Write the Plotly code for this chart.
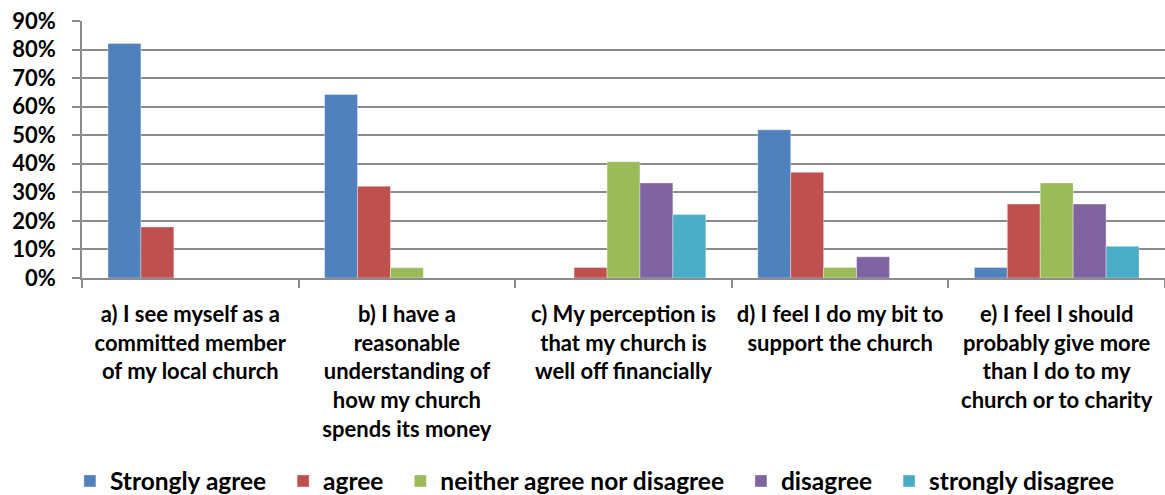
import plotly.graph_objects as go

categories = [
    "a) I see myself as a<br>committed member<br>of my local church",
    "b) I have a<br>reasonable<br>understanding of<br>how my church<br>spends its money",
    "c) My perception is<br>that my church is<br>well off financially",
    "d) I feel I do my bit to<br>support the church",
    "e) I feel I should<br>probably give more<br>than I do to my<br>church or to charity",
]
series_names = ["Strongly agree", "agree", "neither agree nor disagree", "disagree", "strongly disagree"]
strongly_agree = [0.821, 0.643, 0.0, 0.519, 0.037]
agree = [0.179, 0.321, 0.037, 0.370, 0.259]
neither = [0.0, 0.036, 0.407, 0.037, 0.333]
disagree = [0.0, 0.0, 0.333, 0.074, 0.259]
strongly_disagree = [0.0, 0.0, 0.222, 0.0, 0.111]
series_values = [strongly_agree, agree, neither, disagree, strongly_disagree]
colors = ["#4F81BD", "#C0504D", "#9BBB59", "#8064A2", "#4BACC6"]
y_ticks = [0, 0.1, 0.2, 0.3, 0.4, 0.5, 0.6, 0.7, 0.8, 0.9]

FONT = "Lato"
PAD = "\u00a0\u00a0"
fig = go.Figure()
for i, (name, vals, col) in enumerate(zip(series_names, series_values, colors)):
    label = name + (PAD if i < len(series_names) - 1 else "")
    fig.add_trace(go.Bar(
        x=categories, y=vals, name=label,
        marker=dict(color=col, line=dict(width=0.6, color="rgba(255,255,255,0.6)")),
    ))

fig.update_layout(
    width=1165, height=495,
    margin=dict(l=82, r=0, t=21, b=217),
    plot_bgcolor="white", paper_bgcolor="white",
    barmode="group", bargap=0.24, bargroupgap=0,
    font=dict(family=FONT, color="black"),
    legend=dict(
        orientation="h", xref="container", yref="container",
        x=0.06, xanchor="left", y=1 - 481 / 495, yanchor="middle",
        font=dict(family=FONT, size=24.5, weight="bold", color="black"),
        itemwidth=30, traceorder="normal",
    ),
    showlegend=True,
)
fig.update_yaxes(
    range=[0, 0.9], tickvals=y_ticks, tickformat=".0%",
    showgrid=True, gridcolor="#8C8C8C", gridwidth=1.5,
    showline=True, linecolor="#8C8C8C", linewidth=1.5,
    ticks="outside", ticklen=8, tickcolor="#8C8C8C", tickwidth=1.5,
    ticklabelstandoff=12, automargin=False,
    tickfont=dict(family=FONT, size=22, weight="bold", color="black"),
    zeroline=False,
)
fig.update_xaxes(
    showline=True, linecolor="#8C8C8C", linewidth=1.5,
    ticks="outside", ticklen=8, tickcolor="#8C8C8C", tickwidth=1.5,
    tickson="boundaries", ticklabelstandoff=16, automargin=False,
    tickfont=dict(family=FONT, size=22, weight="bold", color="black"),
    tickangle=0,
)
fig.write_html("out.html", config={"displayModeBar": False},
               post_script="document.body.style.margin='0px';")
